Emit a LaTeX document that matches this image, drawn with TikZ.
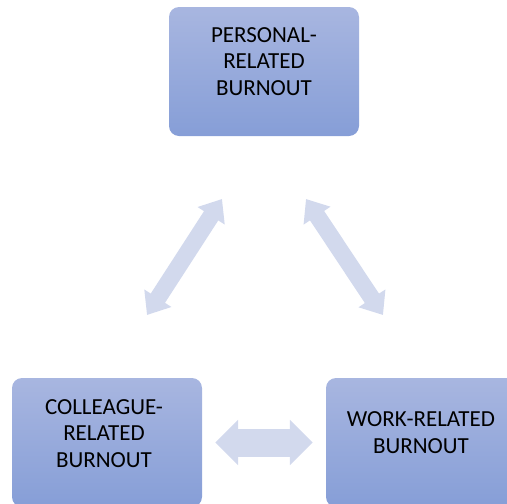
\documentclass[tikz,border=0pt]{standalone}
\usepackage{fontspec}
\setmainfont{Carlito}
\usetikzlibrary{arrows.meta}

\definecolor{boxtop}{RGB}{168,182,224}
\definecolor{boxbottom}{RGB}{134,158,215}
\definecolor{arrowfill}{RGB}{210,217,237}

\begin{document}
\begin{tikzpicture}[
    x=1pt, y=-1pt,
    panel/.style={rounded corners=10pt, minimum width=190pt, minimum height=129pt,
        top color=boxtop, bottom color=boxbottom, draw=none, inner sep=0pt},
    caption/.style={align=center, font=\fontsize{23}{26.5}\selectfont, inner sep=0pt},
    slant/.style={draw=arrowfill, line width=17pt, {Triangle[length=20pt, width=31pt]}-{Triangle[length=20pt, width=31pt]}},
    flat/.style={draw=arrowfill, line width=28pt, {Triangle[length=23pt, width=44pt]}-{Triangle[length=23pt, width=44pt]}}
]
\useasboundingbox (0,0) rectangle (507,504);

% the three burnout boxes
\node[panel] (personal) at (264,71.5) {};
\node[panel] (colleague) at (107,442.5) {};
\node[panel] (work) at (421,442.5) {};

\node[caption] (personal-text) at ([yshift=10pt]personal.center) {PERSONAL-\\RELATED\\BURNOUT};
\node[caption] (colleague-text) at ([xshift=-3pt, yshift=9pt]colleague.center) {COLLEAGUE-\\RELATED\\BURNOUT};
\node[caption] (work-text) at ([yshift=10pt]work.center) {WORK-RELATED\\BURNOUT};

% ends of the slanted arrows
\coordinate (left-top) at (222,199);
\coordinate (left-bottom) at (147,315);
\coordinate (right-top) at (306,199);
\coordinate (right-bottom) at (383,315);

\draw[slant] (left-bottom) -- (left-top);
\draw[slant] (right-top) -- (right-bottom);
\draw[flat, shorten <=13pt, shorten >=13pt] (colleague) -- (work);
\end{tikzpicture}
\end{document}
